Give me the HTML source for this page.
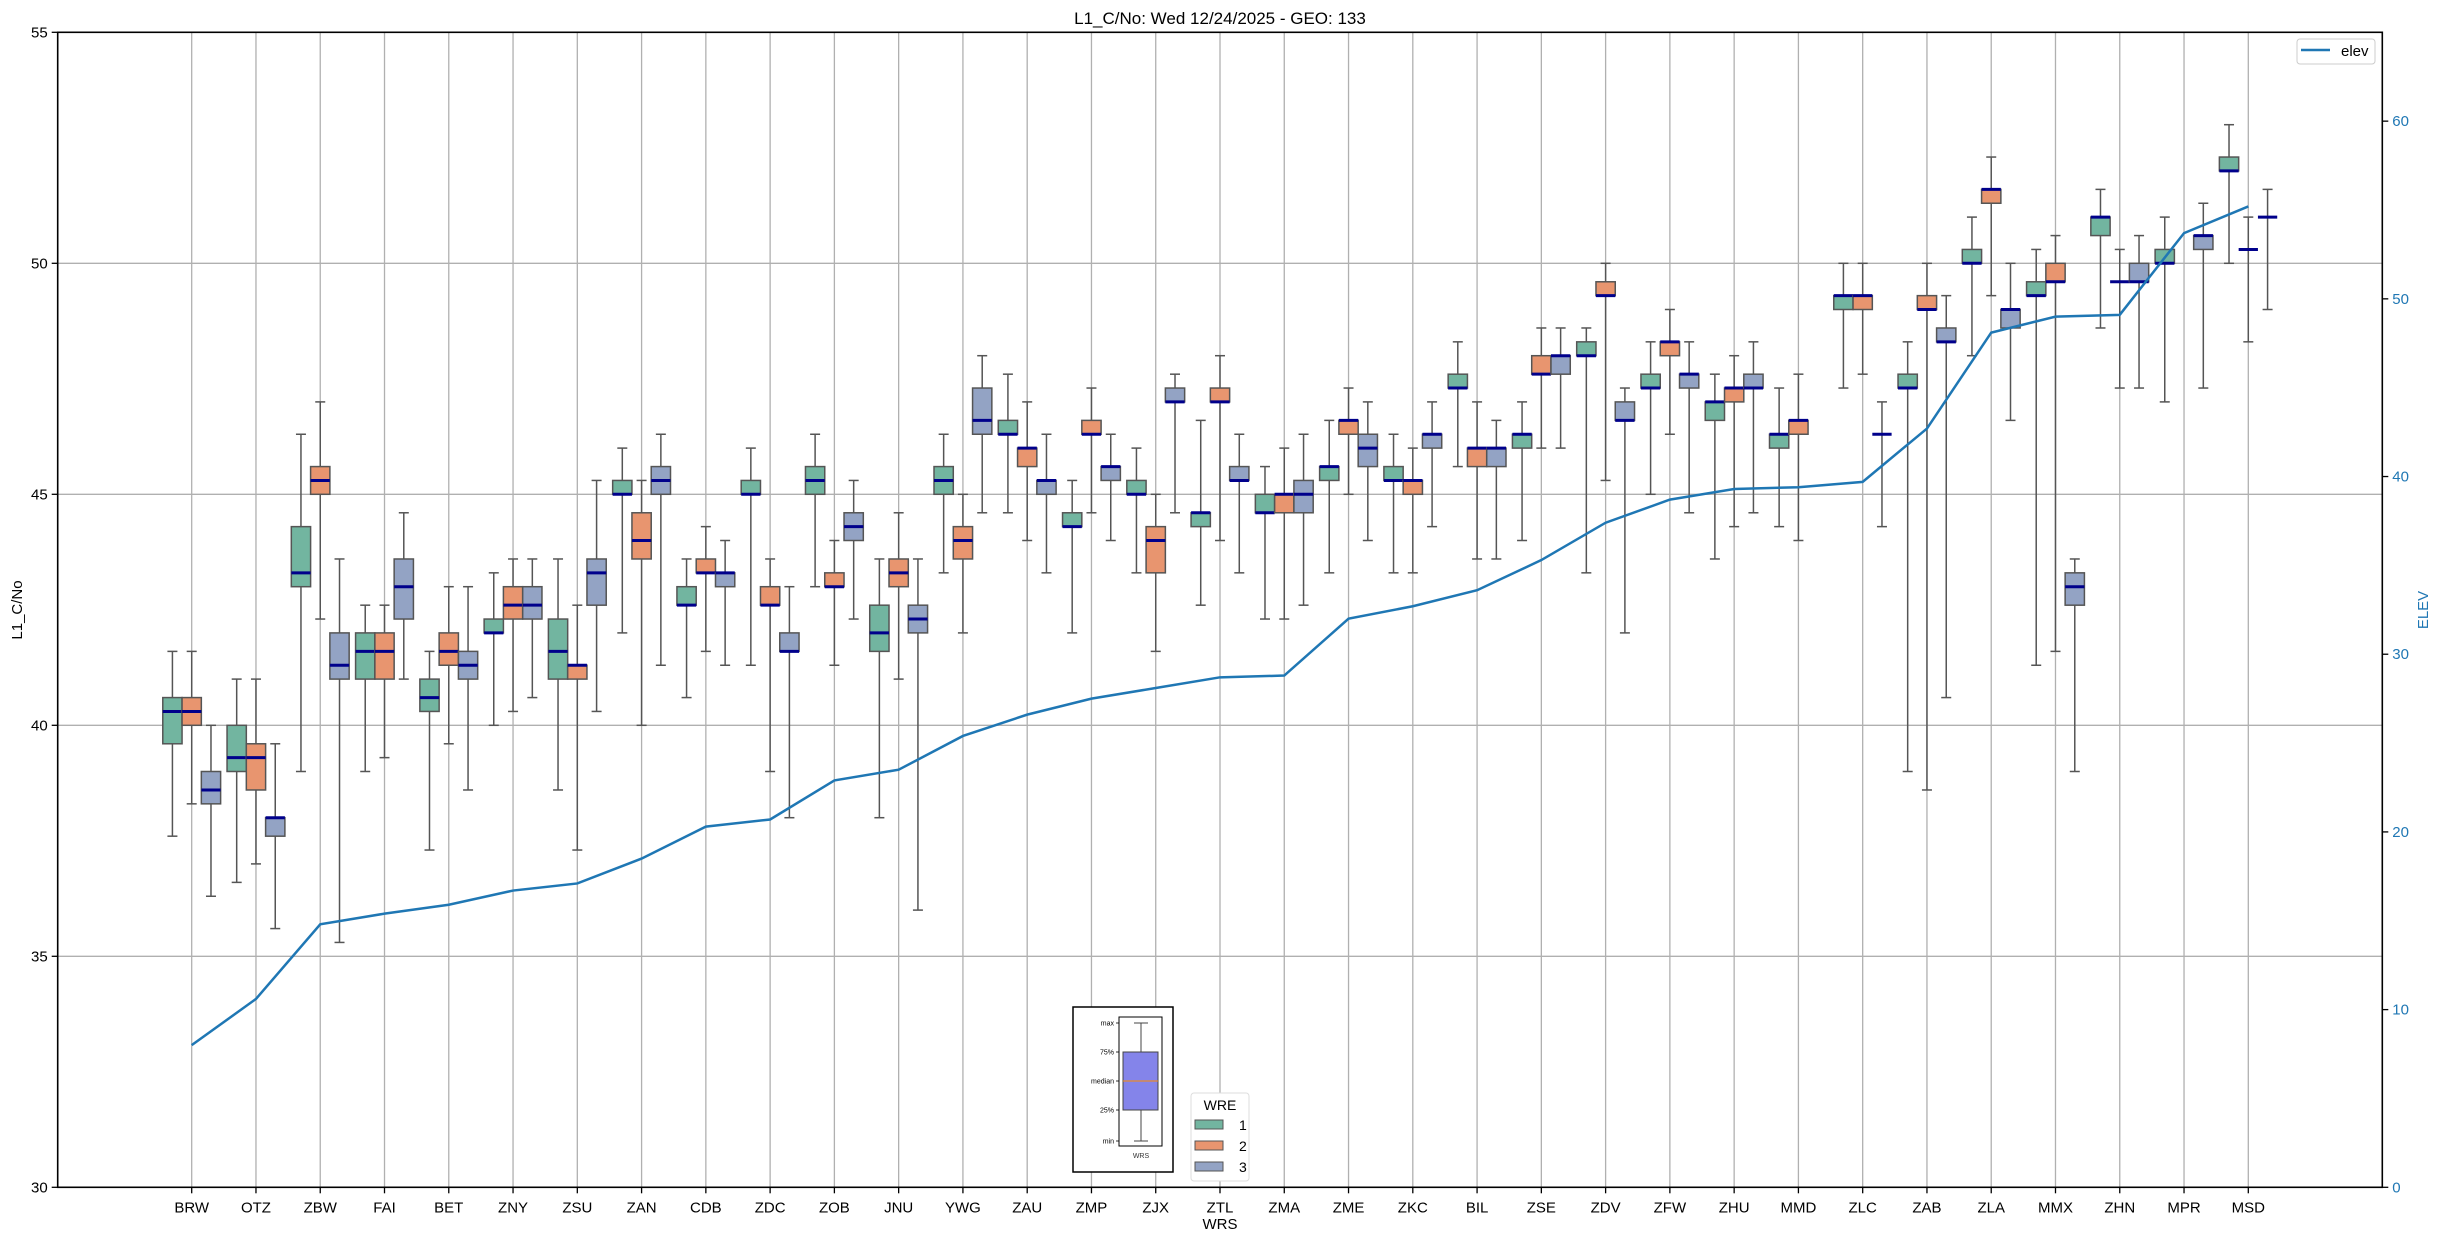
<!DOCTYPE html>
<html><head><meta charset="utf-8"><style>
html,body{margin:0;padding:0;background:#fff}
svg{display:block;font-family:"Liberation Sans","DejaVu Sans",sans-serif}
</style></head><body>
<svg id="chart" width="2438" height="1240" viewBox="0 0 2438 1240" xmlns="http://www.w3.org/2000/svg"></svg>
<script>
const categories=["BRW","OTZ","ZBW","FAI","BET","ZNY","ZSU","ZAN","CDB","ZDC","ZOB","JNU","YWG","ZAU","ZMP","ZJX","ZTL","ZMA","ZME","ZKC","BIL","ZSE","ZDV","ZFW","ZHU","MMD","ZLC","ZAB","ZLA","MMX","ZHN","MPR","MSD"];
// [whisker low, q1, median, q3, whisker high]
const wre1=[[37.6,39.6,40.3,40.6,41.6],[36.6,39,39.3,40,41],[39,43,43.3,44.3,46.3],[39,41,41.6,42,42.6],[37.3,40.3,40.6,41,41.6],[40,42,42,42.3,43.3],[38.6,41,41.6,42.3,43.6],[42,45,45,45.3,46],[40.6,42.6,42.6,43,43.6],[41.3,45,45,45.3,46],[43,45,45.3,45.6,46.3],[38,41.6,42,42.6,43.6],[43.3,45,45.3,45.6,46.3],[44.6,46.3,46.3,46.6,47.6],[42,44.3,44.3,44.6,45.3],[43.3,45,45,45.3,46],[42.6,44.3,44.6,44.6,46.6],[42.3,44.6,44.6,45,45.6],[43.3,45.3,45.6,45.6,46.6],[43.3,45.3,45.3,45.6,46.3],[45.6,47.3,47.3,47.6,48.3],[44,46,46.3,46.3,47],[43.3,48,48,48.3,48.6],[45,47.3,47.3,47.6,48.3],[43.6,46.6,47,47,47.6],[44.3,46,46.3,46.3,47.3],[47.3,49,49.3,49.3,50],[39,47.3,47.3,47.6,48.3],[48,50,50,50.3,51],[41.3,49.3,49.3,49.6,50.3],[48.6,50.6,51,51,51.6],[47,50,50,50.3,51],[50,52,52,52.3,53]];
const wre2=[[38.3,40,40.3,40.6,41.6],[37,38.6,39.3,39.6,41],[42.3,45,45.3,45.6,47],[39.3,41,41.6,42,42.6],[39.6,41.3,41.6,42,43],[40.3,42.3,42.6,43,43.6],[37.3,41,41.3,41.3,42.6],[40,43.6,44,44.6,45.3],[41.6,43.3,43.3,43.6,44.3],[39,42.6,42.6,43,43.6],[41.3,43,43,43.3,44],[41,43,43.3,43.6,44.6],[42,43.6,44,44.3,45],[44,45.6,46,46,47],[44.6,46.3,46.3,46.6,47.3],[41.6,43.3,44,44.3,45],[44,47,47,47.3,48],[42.3,44.6,45,45,46],[45,46.3,46.6,46.6,47.3],[43.3,45,45.3,45.3,46],[43.6,45.6,46,46,47],[46,47.6,47.6,48,48.6],[45.3,49.3,49.3,49.6,50],[46.3,48,48.3,48.3,49],[44.3,47,47.3,47.3,48],[44,46.3,46.6,46.6,47.6],[47.6,49,49.3,49.3,50],[38.6,49,49,49.3,50],[49.3,51.3,51.6,51.6,52.3],[41.6,49.6,49.6,50,50.6],[47.3,49.6,49.6,49.6,50.3],null,[48.3,50.3,50.3,50.3,51]];
const wre3=[[36.3,38.3,38.6,39,40],[35.6,37.6,38,38,39.6],[35.3,41,41.3,42,43.6],[41,42.3,43,43.6,44.6],[38.6,41,41.3,41.6,43],[40.6,42.3,42.6,43,43.6],[40.3,42.6,43.3,43.6,45.3],[41.3,45,45.3,45.6,46.3],[41.3,43,43.3,43.3,44],[38,41.6,41.6,42,43],[42.3,44,44.3,44.6,45.3],[36,42,42.3,42.6,43.6],[44.6,46.3,46.6,47.3,48],[43.3,45,45.3,45.3,46.3],[44,45.3,45.6,45.6,46.3],[44.6,47,47,47.3,47.6],[43.3,45.3,45.3,45.6,46.3],[42.6,44.6,45,45.3,46.3],[44,45.6,46,46.3,47],[44.3,46,46.3,46.3,47],[43.6,45.6,46,46,46.6],[46,47.6,48,48,48.6],[42,46.6,46.6,47,47.3],[44.6,47.3,47.6,47.6,48.3],[44.6,47.3,47.3,47.6,48.3],null,[44.3,46.3,46.3,46.3,47],[40.6,48.3,48.3,48.6,49.3],[46.6,48.6,49,49,50],[39,42.6,43,43.3,43.6],[47.3,49.6,49.6,50,50.6],[47.3,50.3,50.6,50.6,51.3],[49,51,51,51,51.6]];
const elev=[8.0,10.6,14.8,15.4,15.9,16.7,17.1,18.5,20.3,20.7,22.9,23.5,25.4,26.6,27.5,28.1,28.7,28.8,32.0,32.7,33.6,35.3,37.4,38.7,39.3,39.4,39.7,42.7,48.1,49.0,49.1,53.7,55.2];
const leftTicks=[30,35,40,45,50,55];
const rightTicks=[0,10,20,30,40,50,60];

const svg=document.getElementById('chart');
const NS='http://www.w3.org/2000/svg';
const L=57.7,R=2382.3,T=32.3,B=1187.3;
const step=(R-L)/(categories.length-1+2*2.085);
const xc=i=>L+step*(2.085+i);
const yL=v=>B-(v-30)/(55-30)*(B-T);
const yR=v=>B-v/65*(B-T);
function el(tag,attrs,parent){const e=document.createElementNS(NS,tag);for(const k in attrs)e.setAttribute(k,attrs[k]);(parent||svg).appendChild(e);return e;}
function txt(s,attrs,parent){const e=el('text',attrs,parent);e.textContent=s;return e;}

// grid
const grid=el('g',{});


categories.forEach((c,i)=>el('line',{x1:xc(i),x2:xc(i),y1:T,y2:B,stroke:'#b0b0b0','stroke-width':1.3},grid));
leftTicks.forEach(v=>{if(v>30&&v<55)el('line',{x1:L,x2:R,y1:yL(v),y2:yL(v),stroke:'#b0b0b0','stroke-width':1.3},grid);});

// boxes
const series=[wre1,wre2,wre3];
const fills=['#72b5a0','#e8956f','#93a3c4'];
const offs=[-0.3,0,0.3];
const bw=0.3*step, cap=10;
series.forEach((s,si)=>{
  const g=el('g',{});
  
  
  s.forEach((d,i)=>{
    if(!d)return;
    const cx=xc(i)+offs[si]*step;
    const b=el('g',{},g);
    
    
    el('line',{x1:cx,x2:cx,y1:yL(d[0]),y2:yL(d[1]),stroke:'#555','stroke-width':1.5},b);
    el('line',{x1:cx,x2:cx,y1:yL(d[3]),y2:yL(d[4]),stroke:'#555','stroke-width':1.5},b);
    el('line',{x1:cx-cap/2,x2:cx+cap/2,y1:yL(d[0]),y2:yL(d[0]),stroke:'#555','stroke-width':1.5},b);
    el('line',{x1:cx-cap/2,x2:cx+cap/2,y1:yL(d[4]),y2:yL(d[4]),stroke:'#555','stroke-width':1.5},b);
    if(d[3]>d[1])el('rect',{x:cx-bw/2,y:yL(d[3]),width:bw,height:yL(d[1])-yL(d[3]),fill:fills[si],stroke:'#555','stroke-width':1.5},b);
    el('line',{x1:cx-bw/2,x2:cx+bw/2,y1:yL(d[2]),y2:yL(d[2]),stroke:'#00008b','stroke-width':3},b);
  });
});

// elevation line
const pl=el('polyline',{points:elev.map((v,i)=>xc(i)+','+yR(v)).join(' '),fill:'none',stroke:'#1f77b4','stroke-width':2.5});



// frame
const fr=el('rect',{x:L,y:T,width:R-L,height:B-T,fill:'none',stroke:'#000','stroke-width':1.6});



// left axis
const la=el('g',{});


leftTicks.forEach(v=>{el('line',{x1:L-6,x2:L,y1:yL(v),y2:yL(v),stroke:'#000','stroke-width':1.3},la);txt(String(v),{x:L-10,y:yL(v)+5,'font-size':15,'text-anchor':'end',fill:'#000'},la);});
const ylt=txt('L1_C/No',{x:0,y:0,'font-size':15,'text-anchor':'middle',transform:'translate(22,610) rotate(-90)'});



// right axis
const ra=el('g',{});


rightTicks.forEach(v=>{el('line',{x1:R,x2:R+6,y1:yR(v),y2:yR(v),stroke:'#000','stroke-width':1.3},ra);txt(String(v),{x:R+10,y:yR(v)+5,'font-size':15,fill:'#1f77b4'},ra);});
const yrt=txt('ELEV',{x:0,y:0,'font-size':15,'text-anchor':'middle',fill:'#1f77b4',transform:'translate(2428,610) rotate(-90)'});



// x axis
const xa=el('g',{});


categories.forEach((c,i)=>{el('line',{x1:xc(i),x2:xc(i),y1:B,y2:B+6,stroke:'#000','stroke-width':1.3},xa);txt(c,{x:xc(i),y:B+25,'font-size':15,'text-anchor':'middle'},xa);});
const xt=txt('WRS',{x:(L+R)/2,y:1229,'font-size':15,'text-anchor':'middle'});



const ti=txt('L1_C/No: Wed 12/24/2025 - GEO: 133',{x:(L+R)/2,y:24,'font-size':17,'text-anchor':'middle'});



// elev legend
const el1=el('g',{});


el('rect',{x:2297,y:39,width:78,height:25,rx:3,fill:'#fff',stroke:'#ccc','stroke-width':1},el1);
el('line',{x1:2301,x2:2330,y1:50,y2:50,stroke:'#1f77b4','stroke-width':2.5},el1);
txt('elev',{x:2341,y:56,'font-size':15},el1);

// inset box-legend
const ins=el('g',{});


el('rect',{x:1073,y:1007,width:100,height:165,fill:'#fff',stroke:'#000','stroke-width':1.5},ins);
el('rect',{x:1119,y:1017,width:43,height:129,fill:'#fff',stroke:'#000','stroke-width':1},ins);
el('line',{x1:1141,x2:1141,y1:1023,y2:1141,stroke:'#444','stroke-width':1},ins);
el('line',{x1:1134,x2:1148,y1:1023,y2:1023,stroke:'#444','stroke-width':1},ins);
el('line',{x1:1134,x2:1148,y1:1141,y2:1141,stroke:'#444','stroke-width':1},ins);
el('rect',{x:1123,y:1052,width:35,height:58,fill:'#8484ea',stroke:'#444','stroke-width':1},ins);
el('line',{x1:1123,x2:1158,y1:1081,y2:1081,stroke:'#ff8c00','stroke-width':1},ins);
[['max',1023],['75%',1052],['median',1081],['25%',1110],['min',1141]].forEach(([s,y])=>{el('line',{x1:1116,x2:1119,y1:y,y2:y,stroke:'#000','stroke-width':0.8},ins);txt(s,{x:1114,y:y+2.5,'font-size':7,'text-anchor':'end'},ins);});
txt('WRS',{x:1141,y:1158,'font-size':7,'text-anchor':'middle',fill:'#333'},ins);

// WRE legend
const wl=el('g',{});


el('rect',{x:1191,y:1093,width:58,height:88,rx:3,fill:'#fff',stroke:'#ddd','stroke-width':1},wl);
txt('WRE',{x:1220,y:1110,'font-size':14,'text-anchor':'middle'},wl);
['1','2','3'].forEach((s,k)=>{el('rect',{x:1195,y:1120+k*21,width:28,height:9,fill:fills[k],stroke:'#555','stroke-width':1},wl);txt(s,{x:1239,y:1130+k*21,'font-size':14},wl);});
</script>
</body></html>
